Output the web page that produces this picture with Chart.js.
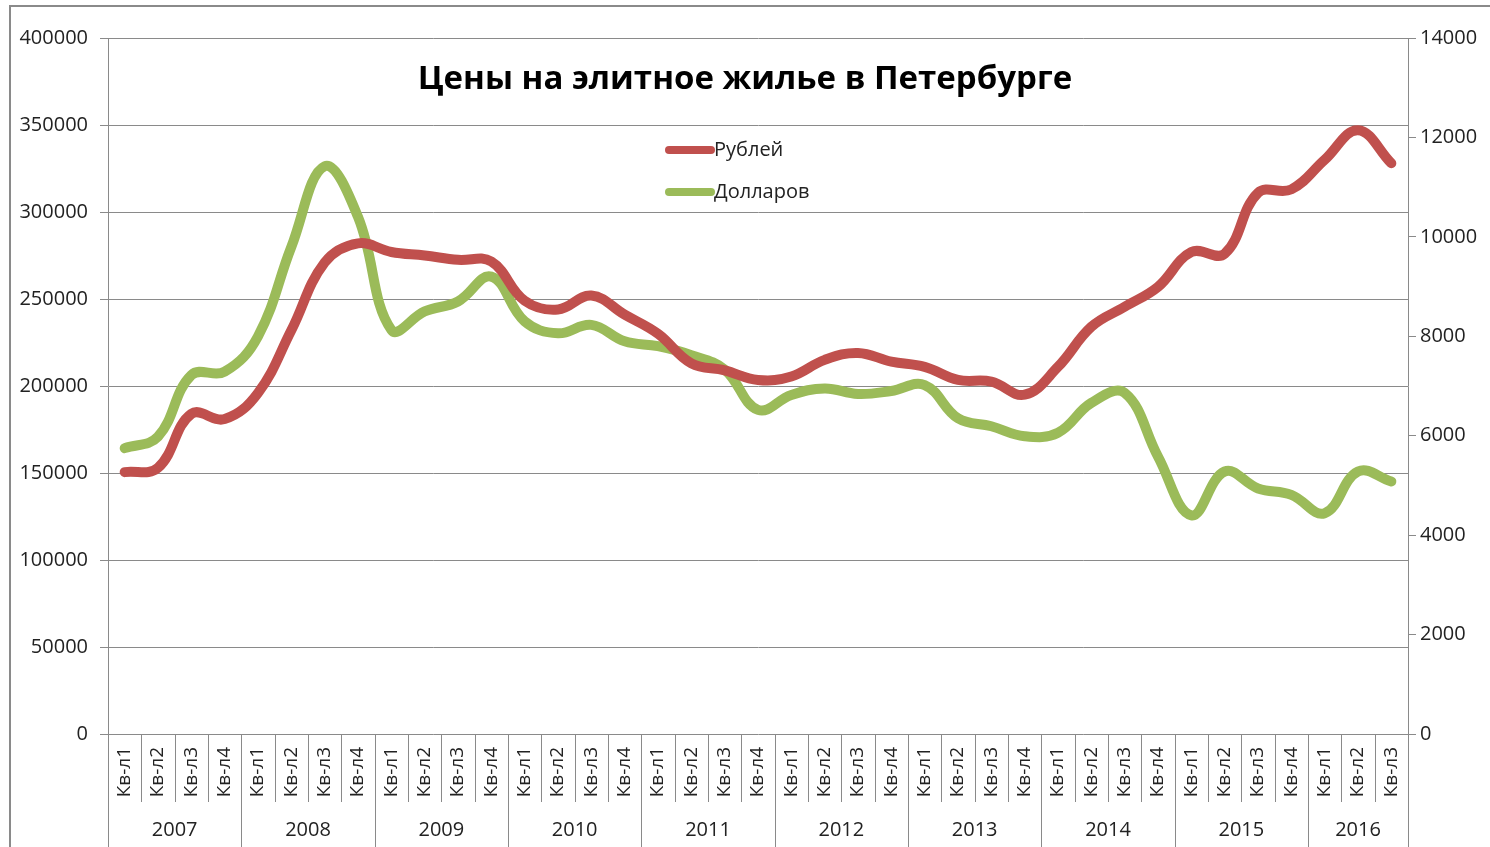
<!DOCTYPE html>
<html>
<head>
<meta charset="utf-8">
<script src="https://cdn.jsdelivr.net/npm/chart.js@4"></script>
<style>
  html, body { margin: 0; padding: 0; background: #fff; overflow: hidden; }
  #wrap { position: relative; width: 1490px; height: 847px; }
  #frame { position: absolute; left: 9px; top: 5px; width: 1600px; height: 1000px; border: 2px solid #8a8a8a; pointer-events: none; }
  canvas { position: absolute; left: 0; top: 0; }
</style>
</head>
<body>
<div id="wrap">
  <canvas id="chart" width="1490" height="847"></canvas>
  <div id="frame"></div>
</div>
<script>
const chartTitle = "Цены на элитное жилье в Петербурге";
const years = ["2007", "2008", "2009", "2010", "2011", "2012", "2013", "2014", "2015", "2016"];
const quartersPerYear = [4, 4, 4, 4, 4, 4, 4, 4, 4, 3];
const quarterNames = ["Кв-л1", "Кв-л2", "Кв-л3", "Кв-л4"];

const rubles = [150500, 153000, 184000, 181000, 196000, 232000, 271000, 282000, 277000, 275000,
  272500, 271500, 249000, 244000, 252000, 241000, 230000, 213000, 209000, 203500,
  205500, 215000, 219000, 214000, 211000, 203500, 202500, 195000, 211000, 234000,
  245500, 257000, 277000, 276000, 311000, 313000, 330000, 347000, 328000];
const dollars = [5750, 5980, 7220, 7290, 8000, 9800, 11420, 10400, 8130, 8500,
  8700, 9200, 8300, 8060, 8230, 7900, 7800, 7620, 7330, 6520,
  6820, 6950, 6840, 6900, 7020, 6350, 6190, 5990, 6060, 6660,
  6860, 5580, 4400, 5280, 4940, 4810, 4440, 5280, 5080];

// category labels: quarter names, repeated per year
const labels = [];
years.forEach((y, k) => {
  for (let q = 0; q < quartersPerYear[k]; q++) labels.push(quarterNames[q]);
});

const FONT = "'Open Sans', 'Noto Sans', sans-serif";
const GRID = "#8a8a8a";

const decorPlugin = {
  id: "decor",
  afterDraw(chart) {
    const ctx = chart.ctx;
    const area = chart.chartArea;
    const x = chart.scales.x;
    const half = (x.getPixelForValue(1) - x.getPixelForValue(0)) / 2;
    ctx.save();
    ctx.strokeStyle = GRID;
    ctx.lineWidth = 1;
    // quarter separators and year separators under the axis
    let idx = 0;
    ctx.fillStyle = "#222";
    ctx.font = "20px " + FONT;
    ctx.textAlign = "center";
    ctx.textBaseline = "middle";
    years.forEach((yr, k) => {
      const start = x.getPixelForValue(idx) - half;
      const end = x.getPixelForValue(idx + quartersPerYear[k] - 1) + half;
      for (let q = 0; q < quartersPerYear[k]; q++) {
        const px = Math.round(x.getPixelForValue(idx + q) - half) + 0.5;
        ctx.beginPath();
        ctx.moveTo(px, area.bottom);
        ctx.lineTo(px, q === 0 ? chart.height : area.bottom + 68);
        ctx.stroke();
      }
      ctx.fillText(yr, (start + end) / 2, area.bottom + 96);
      idx += quartersPerYear[k];
    });
    const last = Math.round(area.right) + 0.5;
    ctx.beginPath();
    ctx.moveTo(last, area.bottom);
    ctx.lineTo(last, chart.height);
    ctx.stroke();

    // title
    ctx.fillStyle = "#000";
    ctx.font = "bold 33px " + FONT;
    ctx.fillText(chartTitle, chart.width / 2, 80);

    // legend inside the plot
    ctx.font = "20px " + FONT;
    ctx.textAlign = "left";
    chart.data.datasets.forEach((ds, i) => {
      const ly = 150 + i * 42;
      ctx.strokeStyle = ds.borderColor;
      ctx.lineWidth = 8;
      ctx.lineCap = "round";
      ctx.beginPath();
      ctx.moveTo(669, ly);
      ctx.lineTo(711, ly);
      ctx.stroke();
      ctx.fillStyle = "#222";
      ctx.fillText(ds.label, 714, ly);
    });
    ctx.restore();
  }
};

new Chart(document.getElementById("chart"), {
  type: "line",
  data: {
    labels: labels,
    datasets: [
      { label: "Рублей", data: rubles, yAxisID: "y", borderColor: "#c0504d", borderWidth: 10,
        pointRadius: 0, tension: 0.4, borderCapStyle: "round", borderJoinStyle: "round", fill: false },
      { label: "Долларов", data: dollars, yAxisID: "y1", borderColor: "#9bbb59", borderWidth: 10,
        pointRadius: 0, tension: 0.4, borderCapStyle: "round", borderJoinStyle: "round", fill: false }
    ]
  },
  options: {
    responsive: false,
    animation: false,
    layout: { padding: { top: 38, left: 0, right: 0, bottom: 0 } },
    plugins: { legend: { display: false }, tooltip: { enabled: false }, title: { display: false } },
    scales: {
      x: {
        offset: true,
        grid: { display: false, drawTicks: false },
        border: { display: false },
        ticks: { autoSkip: false, minRotation: 90, maxRotation: 90, padding: 13, color: "#222",
          font: { family: FONT, size: 19 } },
        afterFit(s) { s.height = 113; }
      },
      y: {
        position: "left",
        min: 0, max: 400000,
        ticks: { stepSize: 50000, padding: 12, color: "#222", font: { family: FONT, size: 20 },
          callback: v => String(v) },
        grid: { color: GRID, tickLength: 8, drawTicks: true },
        border: { color: GRID },
        afterFit(s) { s.width = 108; }
      },
      y1: {
        position: "right",
        min: 0, max: 14000,
        ticks: { stepSize: 2000, padding: 4, color: "#222", font: { family: FONT, size: 20 },
          callback: v => String(v) },
        grid: { drawOnChartArea: false, color: GRID, tickLength: 8 },
        border: { color: GRID },
        afterFit(s) { s.width = 82; }
      }
    }
  },
  plugins: [decorPlugin]
});
</script>
</body>
</html>
